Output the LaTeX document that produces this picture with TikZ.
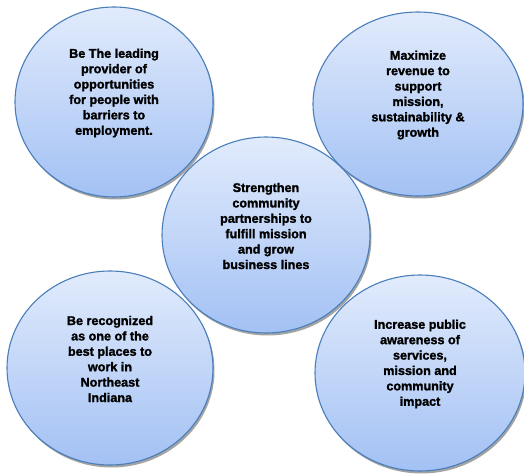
\documentclass[tikz,border=0pt]{standalone}
\usepackage{xcolor}
\usepackage{fontspec}
\setmainfont{Liberation Sans}[BoldFeatures={FakeBold=1.6}]
\usepackage{tikz}
\usetikzlibrary{positioning, shapes.geometric, shadows}
\definecolor{goaltop}{HTML}{E1EBFC}
\definecolor{goalbottom}{HTML}{A3C1F4}
\definecolor{goalline}{HTML}{4A7EBB}

\tikzset{
  goal/.style={ellipse, draw=goalline, line width=1.1pt,
    top color=goaltop, bottom color=goalbottom,
    drop shadow={shadow xshift=1.5pt, shadow yshift=-2.5pt, fill=black!45, opacity=.8}},
  goaltext/.style={align=center, font=\bfseries\fontsize{12.6}{15.4}\selectfont, yshift=9pt}
}

\begin{document}
\begin{tikzpicture}[x=1pt, y=1pt]
    \useasboundingbox (0,0) rectangle (524,474);
    % the five goals
    \node[goal, minimum width=198pt, minimum height=190pt] (lead) at (114,372) {};
    \node[goal, minimum width=206pt, minimum height=194pt] (place) at (110,106) {};
    \node[goal, minimum width=208pt, minimum height=196pt] (partner) at (266,239) {};
    \node[goal, minimum width=210pt, minimum height=184pt] (revenue) at (418,370) {};
    \node[goal, minimum width=210pt, minimum height=196pt] (aware) at (420,101) {};

    \node[goaltext] (leadtext) at (lead.center) {Be The leading\\provider of\\opportunities\\for people with\\barriers to\\employment.};
    \node[goaltext] (placetext) at (place.center) {Be recognized\\as one of the\\best places to\\work in\\Northeast\\Indiana};
    \node[goaltext] (partnertext) at (partner.center) {Strengthen\\community\\partnerships to\\fulfill mission\\and grow\\business lines};
    \node[goaltext] (revenuetext) at (revenue.center) {Maximize\\revenue to\\support\\mission,\\sustainability \&\\growth};
    \node[goaltext] (awaretext) at (aware.center) {Increase public\\awareness of\\services,\\mission and\\community\\impact};
  \end{tikzpicture}
\end{document}
